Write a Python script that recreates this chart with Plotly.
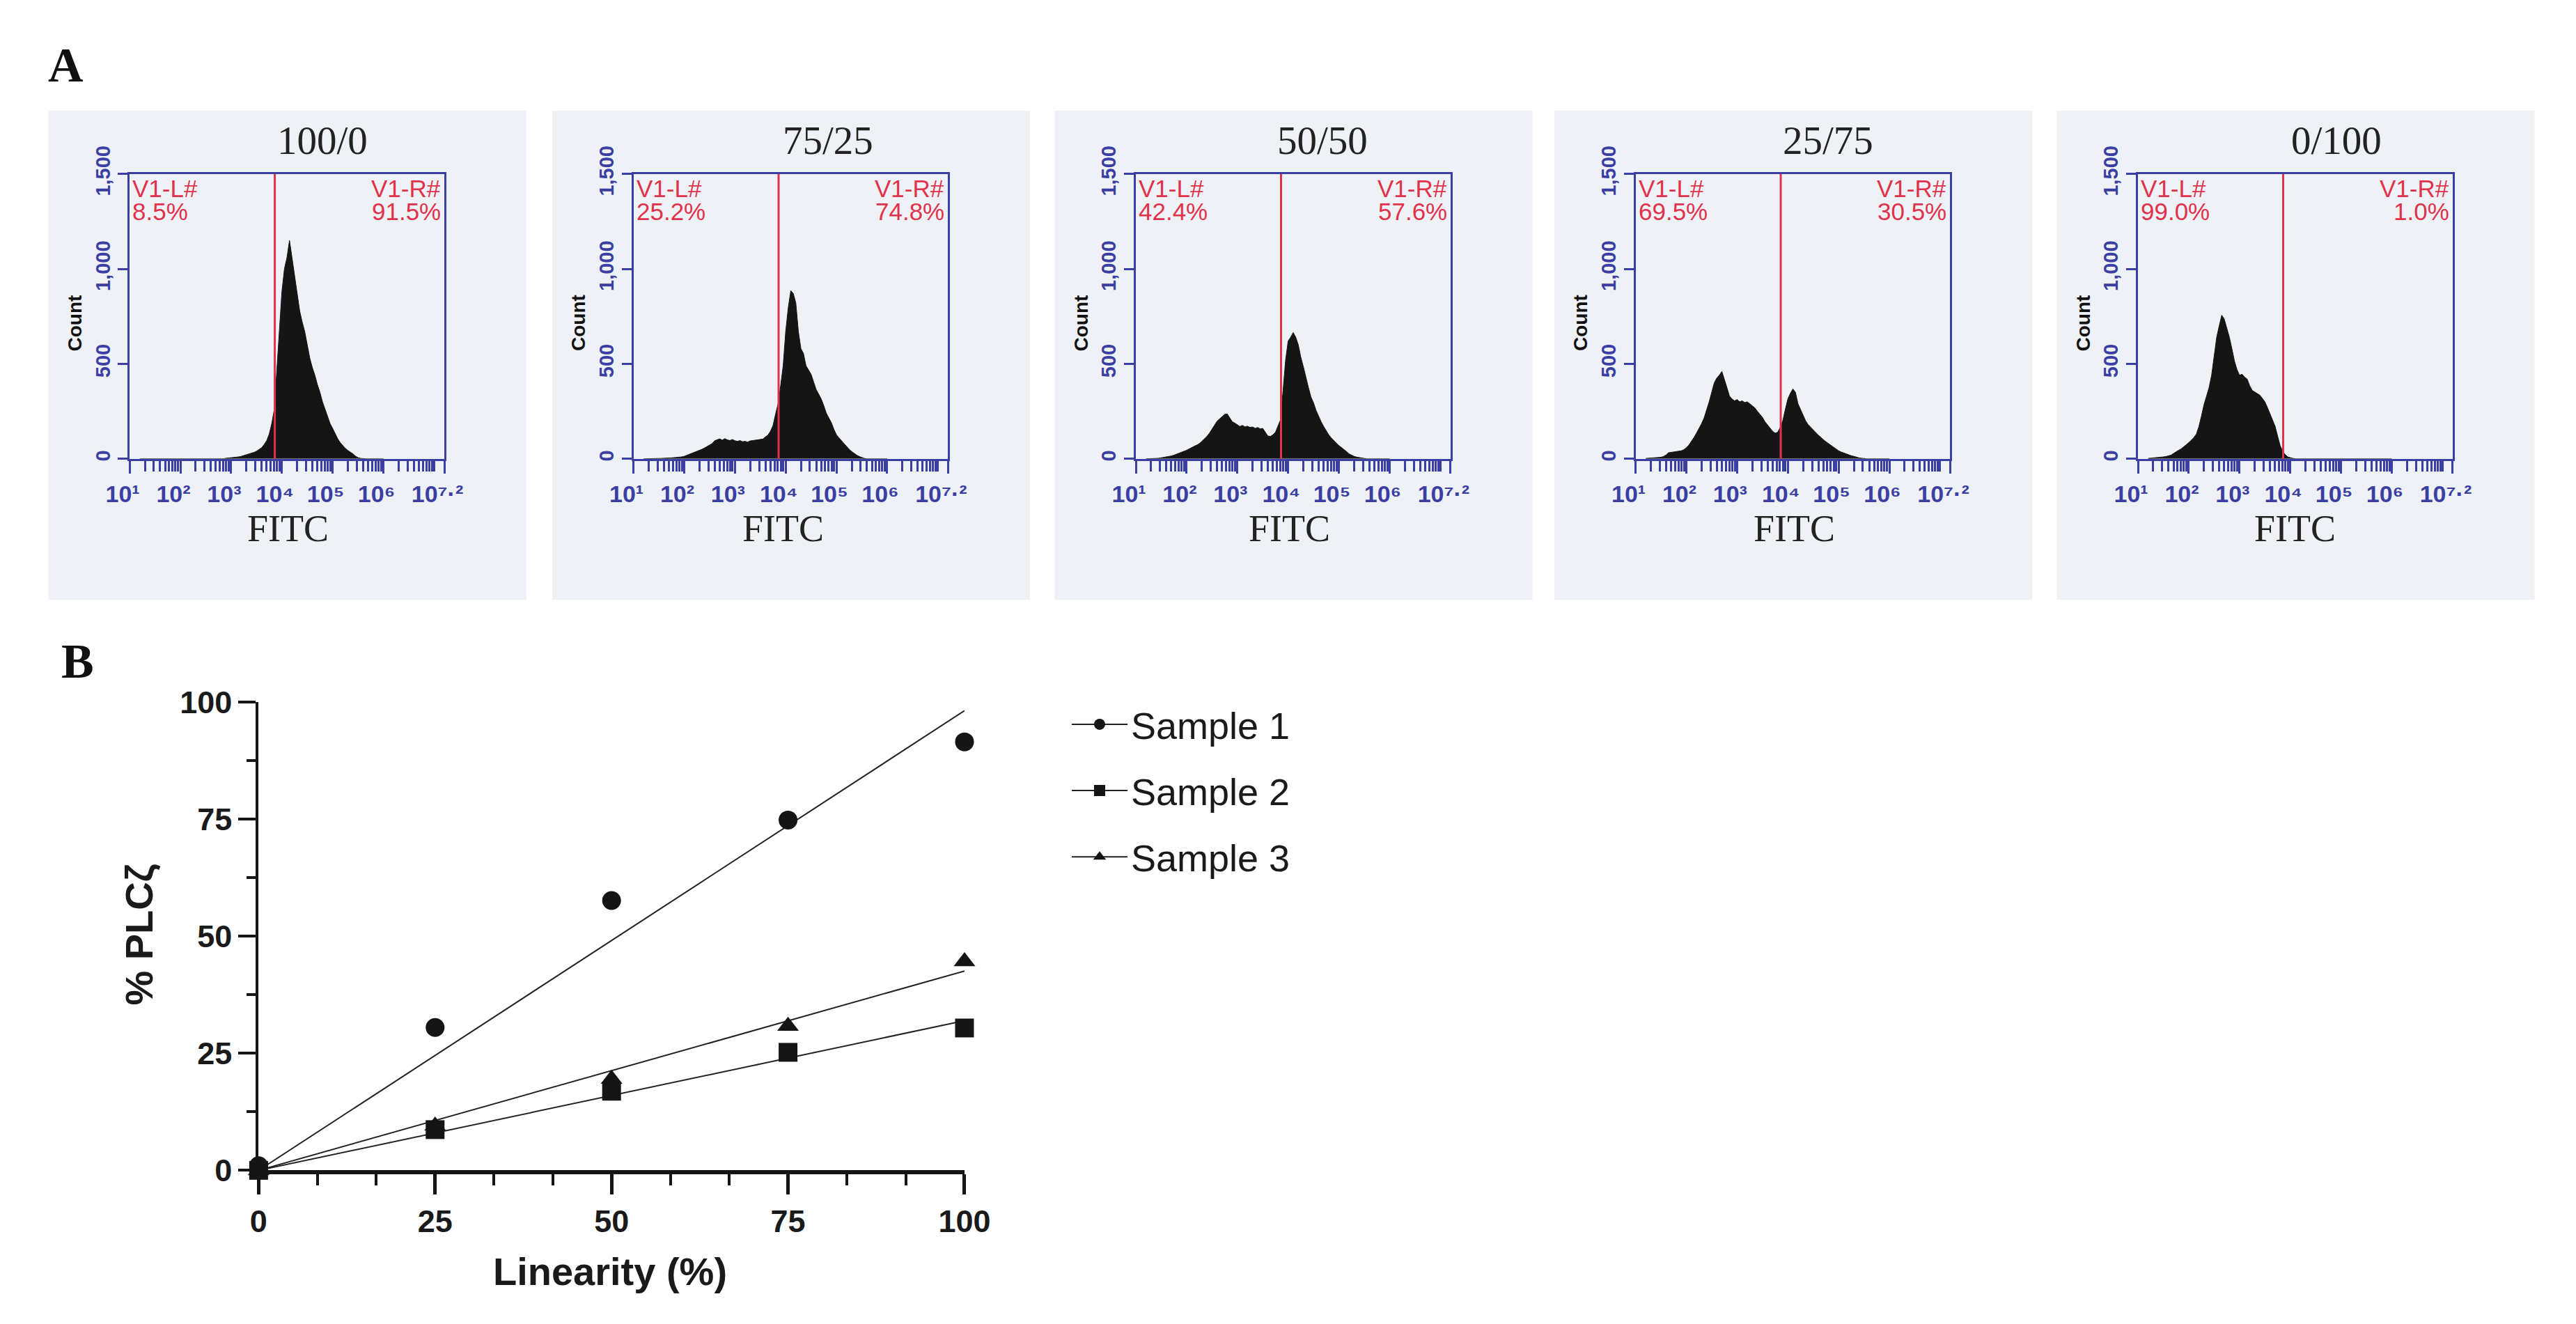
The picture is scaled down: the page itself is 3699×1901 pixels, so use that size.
import numpy as np
import plotly.graph_objects as go

W, H = 3699, 1901

SANS = "Liberation Sans, Arial, sans-serif"
NARROW = "Liberation Sans Narrow, Arial Narrow, Liberation Sans, sans-serif"
SERIF = "Liberation Serif, Times New Roman, serif"
BLUE = "#3b3fa3"
RED = "#e1324b"
INK = "#151515"
PANEL_BG = "#eef2f6"

# ---- panel A: FITC histograms ----
PANEL_TITLES = ["100/0", "75/25", "50/50", "25/75", "0/100"]
LEFT_PCT = ["8.5%", "25.2%", "42.4%", "69.5%", "99.0%"]
RIGHT_PCT = ["91.5%", "74.8%", "57.6%", "30.5%", "1.0%"]
GATE_LOG = 3.86
COUNT_MAX = 1500

# channel positions, log10(FITC)
LOG_FITC = [
    1.20, 1.25, 1.30, 1.35, 1.40, 1.45,
    1.50, 1.55, 1.60, 1.65, 1.70, 1.75, 1.80, 1.85, 1.90, 1.95,
    2.00, 2.05, 2.10, 2.15, 2.20, 2.25, 2.30, 2.35, 2.40, 2.45,
    2.50, 2.55, 2.60, 2.65, 2.70, 2.75, 2.80, 2.85, 2.90, 2.95,
    3.00, 3.05, 3.10, 3.15, 3.20, 3.25, 3.30, 3.35, 3.40, 3.45,
    3.50, 3.55, 3.60, 3.65, 3.70, 3.75, 3.80, 3.85, 3.90, 3.95,
    4.00, 4.05, 4.10, 4.15, 4.20, 4.25, 4.30, 4.35, 4.40, 4.45,
    4.50, 4.55, 4.60, 4.65, 4.70, 4.75, 4.80, 4.85, 4.90, 4.95,
    5.00, 5.05, 5.10, 5.15, 5.20, 5.25, 5.30, 5.35, 5.40, 5.45,
    5.50, 5.55, 5.60, 5.65, 5.70, 5.75, 5.80, 5.85, 5.90, 5.95,
    6.00,
]

COUNTS_100_0 = [
    0, 0, 0, 0, 0, 0,
    0, 0, 0, 0, 0, 0, 0, 0, 0, 0,
    0, 0, 0, 0, 0, 0, 0, 0, 0, 0,
    0, 0, 0, 0, 0, 0, 0, 0, 3, 4,
    5, 6, 8, 10, 13, 17, 20, 24, 28, 34,
    40, 48, 58, 75, 95, 130, 185, 260, 470, 660,
    880, 1000, 1060, 1150, 1060, 960, 870, 780, 720, 670,
    600, 530, 480, 440, 390, 350, 300, 260, 220, 185,
    160, 130, 105, 85, 68, 55, 44, 36, 26, 14,
    6, 2, 0, 0, 0, 0, 0, 0, 0, 0,
    0,
]

COUNTS_75_25 = [
    0, 0, 0, 0, 0, 1,
    1, 2, 3, 3, 4, 5, 6, 7, 8, 10,
    13, 18, 23, 28, 33, 38, 44, 50, 57, 64,
    70, 80, 95, 100, 105, 98, 106, 100, 96, 102,
    95, 92, 96, 90, 92, 88, 94, 96, 98, 100,
    100, 104, 115, 125, 145, 175, 235, 290, 385, 490,
    670, 795, 885, 870, 820, 670, 580, 555, 490, 465,
    445, 405, 365, 340, 315, 280, 240, 215, 190, 155,
    126, 110, 95, 78, 63, 50, 38, 28, 19, 12,
    6, 2, 0, 0, 0, 0, 0, 0, 0, 0,
    0,
]

COUNTS_50_50 = [
    0, 0, 0, 1, 2, 3,
    5, 8, 10, 12, 15, 19, 24, 28, 33, 40,
    45, 52, 60, 66, 72, 80, 92, 104, 118, 135,
    155, 178, 198, 210, 222, 234, 236, 215, 195, 188,
    180, 170, 176, 168, 172, 165, 168, 160, 165, 158,
    160, 140, 120, 118, 126, 140, 175, 205, 360, 520,
    620, 640, 665, 640, 600, 535, 485, 425, 375, 325,
    295, 255, 222, 195, 170, 148, 126, 110, 95, 82,
    70, 60, 50, 38, 26, 19, 13, 9, 6, 4,
    2, 0, 0, 0, 0, 0, 0, 0, 0, 0,
    0,
]

COUNTS_25_75 = [
    2, 3, 3, 4, 5, 6,
    8, 12, 20, 32, 35, 36, 38, 40, 42, 48,
    58, 72, 90, 112, 135, 158, 185, 215, 255, 300,
    350, 400, 425, 440, 460, 420, 375, 330, 315, 305,
    312, 300, 305, 296, 300, 290, 280, 268, 250, 232,
    218, 195, 178, 158, 145, 135, 140, 165, 200, 260,
    315, 345, 368, 350, 290, 260, 227, 200, 180, 165,
    151, 138, 125, 112, 101, 90, 80, 70, 63, 52,
    42, 36, 31, 24, 19, 16, 13, 8, 5, 3,
    1, 0, 0, 0, 0, 0, 0, 0, 0, 0,
    0,
]

COUNTS_0_100 = [
    2, 3, 4, 5, 6, 8,
    10, 12, 15, 19, 28, 38, 45, 52, 62, 75,
    85, 98, 112, 130, 170, 225, 285, 330, 375, 440,
    540, 640, 700, 756, 735, 690, 640, 580, 515, 470,
    440, 445, 430, 420, 385, 360, 352, 345, 335, 318,
    300, 270, 235, 205, 172, 120, 70, 40, 22, 10,
    5, 2, 0, 0, 0, 0, 0, 0, 0, 0,
    0, 0, 0, 0, 0, 0, 0, 0, 0, 0,
    0, 0, 0, 0, 0, 0, 0, 0, 0, 0,
    0, 0, 0, 0, 0, 0, 0, 0, 0, 0,
    0,
]

HISTOGRAMS = [COUNTS_100_0, COUNTS_75_25, COUNTS_50_50, COUNTS_25_75, COUNTS_0_100]

FITC_MAJOR_EXP = [1, 2, 3, 4, 5, 6, 7.2]
FITC_MAJOR_TEXT = ["10¹", "10²", "10³", "10⁴", "10⁵", "10⁶", "10⁷·²"]
COUNT_TICKS = [0, 500, 1000, 1500]
COUNT_TEXT = ["0", "500", "1,000", "1,500"]

# ---- panel B: linearity ----
LINEARITY = [0, 25, 50, 75, 100]
SAMPLE_1 = [1.0, 30.5, 57.6, 74.8, 91.5]
SAMPLE_2 = [0.0, 8.7, 16.9, 25.2, 30.4]
SAMPLE_3 = [0.0, 9.5, 19.5, 30.8, 44.6]
SAMPLE_NAMES = ["Sample 1", "Sample 2", "Sample 3"]
SAMPLE_SYMBOLS = ["circle", "square", "triangle-up"]


def px_x(p):
    return p / W


def px_y(p):
    return 1 - p / H


# layout in pixels (measured on the reference)
BOX_LEFT = [146, 884, 1620, 2352, 3088]
BOX_W = 461
BOX_TOP, BOX_BOTTOM = 208, 632
TITLE_X = [428, 1169, 1893, 2634, 3379]
FITC_X = [378, 1103, 1845, 2584, 3318]

fig = go.Figure()
layout = {}
annotations = []
shapes = []

# minor ticks: 2..9 x 10^n, plus the unlabeled 10^7 tick
minor_vals = [m * 10 ** n for n in range(1, 7) for m in range(2, 10)] + [1e7]

for i in range(5):
    ax = "" if i == 0 else str(i + 1)
    fitc = [10 ** e for e in LOG_FITC]
    fig.add_trace(go.Scatter(
        x=fitc, y=HISTOGRAMS[i], xaxis="x" + ax, yaxis="y" + ax,
        mode="lines", fill="tozeroy", fillcolor=INK,
        line=dict(color=INK, width=1), hoverinfo="skip", showlegend=False))
    fig.add_trace(go.Scatter(
        x=[10 ** GATE_LOG, 10 ** GATE_LOG], y=[0, COUNT_MAX],
        xaxis="x" + ax, yaxis="y" + ax, mode="lines",
        line=dict(color=RED, width=3), hoverinfo="skip", showlegend=False))

    left = BOX_LEFT[i]
    layout["xaxis" + ax] = dict(
        type="log", range=[1, 7.2], domain=[px_x(left), px_x(left + BOX_W)],
        anchor="y" + ax, showline=True, mirror=True, linecolor=BLUE, linewidth=3,
        ticks="outside", ticklen=18, tickwidth=2.5, tickcolor=BLUE,
        tickvals=[10 ** e for e in FITC_MAJOR_EXP], ticktext=FITC_MAJOR_TEXT,
        tickangle=0,
        tickfont=dict(family=NARROW, size=34, color=BLUE, weight="bold"),
        ticklabelshift=-10, ticklabelstandoff=0,
        minor=dict(tickvals=minor_vals, ticks="outside", ticklen=15,
                   tickwidth=2.5, tickcolor=BLUE),
        showgrid=False, zeroline=False, fixedrange=True)
    layout["yaxis" + ax] = dict(
        range=[0, COUNT_MAX], domain=[px_y(BOX_BOTTOM), px_y(BOX_TOP)],
        anchor="x" + ax, showline=True, mirror=True, linecolor=BLUE, linewidth=3,
        ticks="outside", ticklen=14, tickwidth=2.5, tickcolor=BLUE,
        tickvals=COUNT_TICKS, ticktext=COUNT_TEXT, tickangle=-90,
        tickfont=dict(family=NARROW, size=29, color=BLUE, weight="bold"),
        showgrid=False, zeroline=False, fixedrange=True)

    # light panel behind each cytometer plot
    shapes.append(dict(type="rect", xref="paper", yref="paper", layer="below",
                       x0=px_x(left - 119), x1=px_x(left - 119 + 700),
                       y0=px_y(842), y1=px_y(114),
                       fillcolor=PANEL_BG, line=dict(width=0)))

    annotations += [
        dict(text=PANEL_TITLES[i], x=px_x(TITLE_X[i]), y=px_y(158),
             font=dict(family=SERIF, size=57, color="#222")),
        dict(text="FITC", x=px_x(FITC_X[i]), y=px_y(736),
             font=dict(family=SERIF, size=54, color="#222")),
        dict(text="Count", x=px_x(left - 80), y=px_y(430), textangle=-90,
             font=dict(family=SANS, size=28, color="#111", weight="bold")),
        dict(text="V1-L#", xref="x" + ax + " domain", yref="y" + ax + " domain",
             x=0, y=0.948, xanchor="left", xshift=2,
             font=dict(family=SANS, size=35, color=RED)),
        dict(text=LEFT_PCT[i], xref="x" + ax + " domain", yref="y" + ax + " domain",
             x=0, y=0.868, xanchor="left", xshift=2,
             font=dict(family=SANS, size=35, color=RED)),
        dict(text="V1-R#", xref="x" + ax + " domain", yref="y" + ax + " domain",
             x=1, y=0.948, xanchor="right", xshift=-3,
             font=dict(family=SANS, size=35, color=RED)),
        dict(text=RIGHT_PCT[i], xref="x" + ax + " domain", yref="y" + ax + " domain",
             x=1, y=0.868, xanchor="right", xshift=-3,
             font=dict(family=SANS, size=35, color=RED)),
    ]

# ---- panel B traces ----
samples = [SAMPLE_1, SAMPLE_2, SAMPLE_3]
lin = np.array(LINEARITY, dtype=float)
for vals in samples:
    # regression constrained through the origin
    slope = np.sum(lin * np.array(vals)) / np.sum(lin * lin)
    fx = [lin.min(), lin.max()]
    fig.add_trace(go.Scatter(
        x=fx, y=[slope * v for v in fx], xaxis="x6", yaxis="y6", mode="lines",
        line=dict(color="#222", width=2), hoverinfo="skip", showlegend=False))

for k in [2, 1, 0]:
    fig.add_trace(go.Scatter(
        x=LINEARITY, y=samples[k], xaxis="x6", yaxis="y6", mode="markers",
        marker=dict(symbol=SAMPLE_SYMBOLS[k], size=27, color=INK),
        cliponaxis=False, showlegend=False))

# legend-only entries (line + symbol, like the GraphPad key)
for k in range(3):
    fig.add_trace(go.Scatter(
        x=[None], y=[None], xaxis="x6", yaxis="y6", mode="lines+markers",
        name=SAMPLE_NAMES[k], legendgroup=SAMPLE_NAMES[k],
        marker=dict(symbol=SAMPLE_SYMBOLS[k], size=27, color=INK),
        line=dict(color="#222", width=2)))

layout["xaxis6"] = dict(
    range=[0, 100], domain=[px_x(335), px_x(1369)], anchor="y6",
    showline=True, linecolor=INK, linewidth=6,
    ticks="outside", ticklen=29, tickwidth=5, tickcolor=INK,
    tickvals=LINEARITY,
    tickfont=dict(family=SANS, size=45, color="#1a1a1a", weight="bold"),
    minor=dict(dtick=25 / 3, tick0=0, ticks="outside", ticklen=16,
               tickwidth=4, tickcolor=INK),
    showgrid=False, zeroline=False, fixedrange=True)
layout["yaxis6"] = dict(
    range=[0, 100], domain=[px_y(1691), px_y(994)], anchor="x6",
    showline=True, linecolor=INK, linewidth=4,
    ticks="outside", ticklen=25, tickwidth=4, tickcolor=INK,
    tickvals=[0, 25, 50, 75, 100],
    tickfont=dict(family=SANS, size=45, color="#1a1a1a", weight="bold"),
    minor=dict(dtick=12.5, tick0=0, ticks="outside", ticklen=13,
               tickwidth=4, tickcolor=INK),
    showgrid=False, zeroline=False, fixedrange=True)

annotations += [
    dict(text="Linearity (%)", x=px_x(850), y=px_y(1841),
         font=dict(family=SANS, size=56, color="#1a1a1a", weight="bold")),
    dict(text="% PLCζ", x=px_x(160), y=px_y(1340), textangle=-90,
         font=dict(family=SANS, size=56, color="#1a1a1a", weight="bold")),
    dict(text="A", x=px_x(53), y=px_y(46),
         font=dict(family=SERIF, size=70, color="#111", weight="bold")),
    dict(text="B", x=px_x(70), y=px_y(933),
         font=dict(family=SERIF, size=70, color="#111", weight="bold")),
]
for a in annotations:
    a.setdefault("xref", "paper")
    a.setdefault("yref", "paper")
    a.setdefault("xanchor", "center")
    a["yanchor"] = "middle"
    a["showarrow"] = False

fig.update_layout(
    width=W, height=H, autosize=False,
    margin=dict(l=0, r=0, t=0, b=0),
    paper_bgcolor="white", plot_bgcolor="white",
    shapes=shapes, annotations=annotations,
    legend=dict(x=px_x(1521), y=px_y(984), xanchor="left", yanchor="top",
                font=dict(family=SANS, size=54, color="#1a1a1a"),
                tracegroupgap=22, itemwidth=80, bgcolor="rgba(0,0,0,0)"),
    **layout)

fig.write_html("out.html")
